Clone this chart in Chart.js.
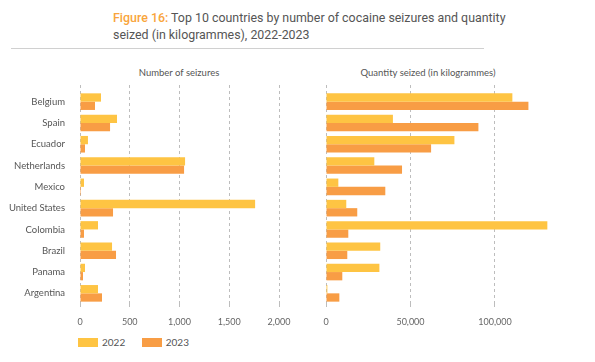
<!DOCTYPE html>
<html>
<head>
<meta charset="utf-8">
<script src="https://cdn.jsdelivr.net/npm/chart.js@4.4.1/dist/chart.umd.min.js"></script>
<style>
  body { margin: 0; background: #fff; }
  #wrap { position: relative; width: 595px; height: 362px; overflow: hidden; font-family: Lato, sans-serif; }
  #head { position: absolute; left: 113px; top: 9px; width: 420px; font: 12.4px/17px Roboto, sans-serif; color: #555; }
  #head b { color: #F9A53B; font-weight: 500; }
  #rule { position: absolute; left: 11px; top: 48px; width: 473px; height: 1px; background: #d0d0d0; }
  .ttl { position: absolute; top: 67px; font-size: 9.5px; color: #555; white-space: nowrap; transform: translateX(-50%); }
  canvas { position: absolute; }
  #legend { position: absolute; left: 78px; top: 335px; font-size: 10px; color: #555; }
  #legend span { display: inline-block; vertical-align: middle; }
  #legend .sw { width: 20px; height: 9px; margin-right: 4px; }
</style>
</head>
<body>
<div id="wrap">
  <div id="head"><b>Figure 16:</b> Top 10 countries by number of cocaine seizures and quantity seized (in kilogrammes), 2022-2023</div>
  <div id="rule"></div>
  <div class="ttl" style="left:179px">Number of seizures</div>
  <div class="ttl" style="left:428px">Quantity seized (in kilogrammes)</div>
  <canvas id="leftChart" width="300" height="241" style="left:0;top:85px"></canvas>
  <canvas id="rightChart" width="295" height="241" style="left:300px;top:85px"></canvas>
  <div id="legend">
    <span class="sw" style="background:#FEC443"></span><span style="margin-right:14px">2022</span>
    <span class="sw" style="background:#F89D45"></span><span>2023</span>
  </div>
</div>
<script>
const countries = ["Belgium", "Spain", "Ecuador", "Netherlands", "Mexico", "United States", "Colombia", "Brazil", "Panama", "Argentina"];
const years = ["2022", "2023"];
const seizures2022 = [211, 372, 80, 1056, 40, 1760, 181, 322, 50, 181];
const seizures2023 = [151, 302, 50, 1046, 10, 332, 40, 362, 30, 221];
const quantity2022 = [110300, 39600, 76000, 28600, 7300, 12000, 131000, 32100, 31600, 800];
const quantity2023 = [119800, 90200, 62200, 45000, 35100, 18500, 13200, 12600, 9650, 7900];
const seizureTicks = [0, 500, 1000, 1500, 2000];
const quantityTicks = [0, 50000, 100000];

const colors = ["#FEC443", "#F89D45"];
const gridColor = "#bdbdbd";

function makeChart(id, a, b, max, ticks, showLabels, pad) {
  const tickVals = ticks.map(v => ({ value: v }));
  return new Chart(document.getElementById(id), {
    type: 'bar',
    data: {
      labels: countries,
      datasets: [
        { label: years[0], data: a, backgroundColor: colors[0] },
        { label: years[1], data: b, backgroundColor: colors[1] }
      ]
    },
    options: {
      indexAxis: 'y',
      responsive: false,
      animation: false,
      layout: { padding: pad },
      datasets: { bar: { barPercentage: 1, categoryPercentage: 0.78 } },
      plugins: { legend: { display: false }, tooltip: { enabled: false } },
      scales: {
        x: {
          min: 0, max: max,
          afterBuildTicks: s => { s.ticks = tickVals.slice(); },
          afterFit: s => { s.height = 22; },
          grid: { color: gridColor, tickColor: gridColor, tickLength: 6, tickBorderDash: [3, 3] },
          border: { display: false, dash: [3, 3] },
          ticks: { font: { family: 'Lato', size: 9 }, color: '#666', padding: 7,
                   callback: v => v.toLocaleString('en-US') }
        },
        xTop: {
          position: 'top', min: 0, max: max,
          afterBuildTicks: s => { s.ticks = tickVals.slice(); },
          afterFit: s => { s.height = 6; },
          grid: { drawOnChartArea: false, color: gridColor, tickColor: gridColor, tickLength: 6, tickBorderDash: [3, 3] },
          border: { display: false },
          ticks: { display: false }
        },
        y: {
          display: showLabels,
          afterFit: s => {
            if (showLabels) s.width = 80;
            s.paddingTop = 0;
            s.paddingBottom = 0;
          },
          grid: { display: false },
          border: { display: false },
          ticks: { font: { family: 'Lato', size: 9.5 }, color: '#555', padding: 7 }
        }
      }
    }
  });
}

makeChart('leftChart', seizures2022, seizures2023, 2000, seizureTicks, true, { left: 0, right: 21, top: 0, bottom: 0 });
makeChart('rightChart', quantity2022, quantity2023, 145000, quantityTicks, false, { left: 26, right: 24, top: 0, bottom: 0 });
</script>
</body>
</html>
